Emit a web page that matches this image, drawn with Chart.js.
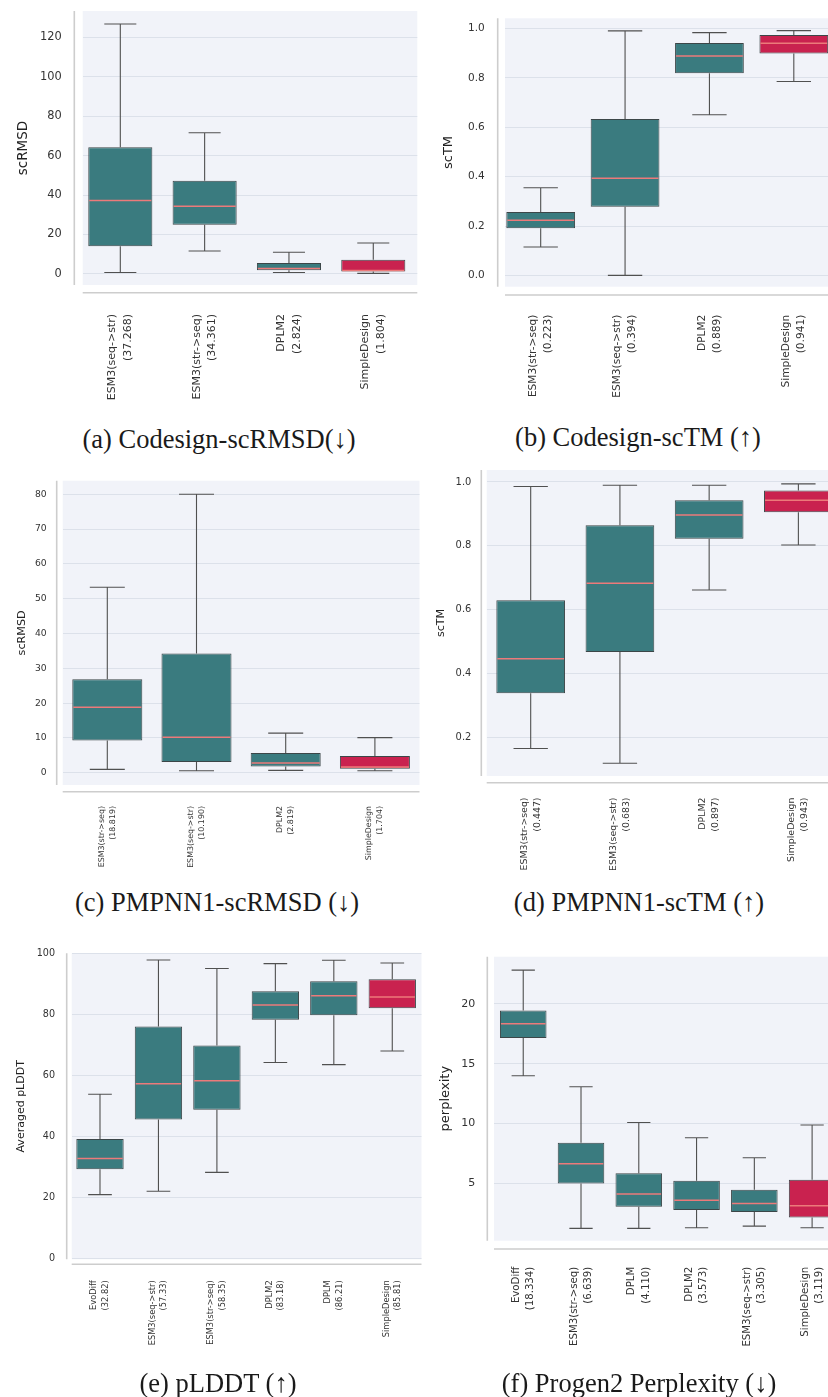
<!DOCTYPE html>
<html>
<head>
<meta charset="utf-8">
<script src="https://cdn.jsdelivr.net/npm/chart.js@4/dist/chart.umd.min.js"></script>
<style>
  html, body { margin: 0; padding: 0; background: #fff; }
  body { width: 828px; height: 1397px; position: relative; overflow: hidden; }
  canvas { position: absolute; }
  .caption {
    position: absolute;
    transform: translate(-50%, -50%);
    font-family: "Liberation Serif", "DejaVu Serif", serif;
    font-size: 26.5px;
    color: #1a1a1a;
    white-space: nowrap;
  }
</style>
</head>
<body>
<canvas id="chartA"></canvas>
<canvas id="chartB"></canvas>
<canvas id="chartC"></canvas>
<canvas id="chartD"></canvas>
<canvas id="chartE"></canvas>
<canvas id="chartF"></canvas>
<div class="caption" style="left:219px;top:439px">(a) Codesign-scRMSD(↓)</div>
<div class="caption" style="left:638px;top:437px">(b) Codesign-scTM (↑)</div>
<div class="caption" style="left:217px;top:902px">(c) PMPNN1-scRMSD (↓)</div>
<div class="caption" style="left:639px;top:902px">(d) PMPNN1-scTM (↑)</div>
<div class="caption" style="left:218px;top:1383px">(e) pLDDT (↑)</div>
<div class="caption" style="left:639px;top:1383px">(f) Progen2 Perplexity (↓)</div>
<script>
// box stats are [lower whisker, q1, median, q3, upper whisker]

// (a) Codesign scRMSD
const codesignRmsdLabels = [
  ["ESM3(seq->str)", "(37.268)"],
  ["ESM3(str->seq)", "(34.361)"],
  ["DPLM2", "(2.824)"],
  ["SimpleDesign", "(1.804)"],
];
const codesignRmsdBoxes = [
  [0.7, 14.0, 37.268, 64.2, 126.7],
  [11.6, 24.9, 34.361, 47.2, 71.6],
  [0.7, 1.9, 2.824, 5.6, 11.0],
  [0.3, 1.2, 1.804, 7.2, 15.7],
];
const codesignRmsdTicks = [0, 20, 40, 60, 80, 100, 120];

// (b) Codesign scTM
const codesignTmLabels = [
  ["ESM3(str->seq)", "(0.223)"],
  ["ESM3(seq->str)", "(0.394)"],
  ["DPLM2", "(0.889)"],
  ["SimpleDesign", "(0.941)"],
];
const codesignTmBoxes = [
  [0.115, 0.191, 0.223, 0.257, 0.355],
  [0.0, 0.278, 0.394, 0.634, 0.991],
  [0.651, 0.819, 0.889, 0.942, 0.984],
  [0.786, 0.899, 0.941, 0.974, 0.992],
];
const codesignTmTicks = [0, 0.2, 0.4, 0.6, 0.8, 1.0];

// (c) PMPNN1 scRMSD
const pmpnnRmsdLabels = [
  ["ESM3(str->seq)", "(18.819)"],
  ["ESM3(seq->str)", "(10.190)"],
  ["DPLM2", "(2.819)"],
  ["SimpleDesign", "(1.704)"],
];
const pmpnnRmsdBoxes = [
  [1.0, 9.3, 18.819, 26.9, 53.3],
  [0.6, 3.1, 10.19, 34.3, 80.0],
  [0.7, 1.8, 2.819, 5.7, 11.4],
  [0.6, 1.2, 1.704, 4.8, 10.1],
];
const pmpnnRmsdTicks = [0, 10, 20, 30, 40, 50, 60, 70, 80];

// (d) PMPNN1 scTM
const pmpnnTmLabels = [
  ["ESM3(str->seq)", "(0.447)"],
  ["ESM3(seq->str)", "(0.683)"],
  ["DPLM2", "(0.897)"],
  ["SimpleDesign", "(0.943)"],
];
const pmpnnTmBoxes = [
  [0.166, 0.339, 0.447, 0.630, 0.986],
  [0.120, 0.468, 0.683, 0.865, 0.990],
  [0.662, 0.822, 0.897, 0.943, 0.990],
  [0.803, 0.905, 0.943, 0.973, 0.994],
];
const pmpnnTmTicks = [0.2, 0.4, 0.6, 0.8, 1.0];

// (e) pLDDT
const plddtLabels = [
  ["EvoDiff", "(32.82)"],
  ["ESM3(seq->str)", "(57.33)"],
  ["ESM3(str->seq)", "(58.35)"],
  ["DPLM2", "(83.18)"],
  ["DPLM", "(86.21)"],
  ["SimpleDesign", "(85.81)"],
];
const plddtBoxes = [
  [21.0, 29.3, 32.82, 39.2, 53.9],
  [22.1, 45.6, 57.33, 76.1, 97.9],
  [28.3, 48.8, 58.35, 69.9, 95.1],
  [64.3, 78.3, 83.18, 87.7, 96.7],
  [63.6, 79.8, 86.21, 90.9, 97.8],
  [68.1, 82.1, 85.81, 91.6, 96.9],
];
const plddtTicks = [0, 20, 40, 60, 80, 100];

// (f) Progen2 perplexity
const perplexityLabels = [
  ["EvoDiff", "(18.334)"],
  ["ESM3(str->seq)", "(6.639)"],
  ["DPLM", "(4.110)"],
  ["DPLM2", "(3.573)"],
  ["ESM3(seq->str)", "(3.305)"],
  ["SimpleDesign", "(3.119)"],
];
const perplexityBoxes = [
  [14.0, 17.15, 18.334, 19.46, 22.83],
  [1.23, 4.99, 6.639, 8.39, 13.07],
  [1.23, 3.04, 4.110, 5.85, 10.09],
  [1.28, 2.76, 3.573, 5.21, 8.81],
  [1.42, 2.59, 3.305, 4.46, 7.14],
  [1.28, 2.15, 3.119, 5.30, 9.87],
];
const perplexityTicks = [5, 10, 15, 20];

const TEAL = "#3a7b7f";
const RED = "#c9224f";
const BOX_EDGE = "#3c4648";
const MEDIAN = "#ec7a7a";
const WHISKER = "#505050";
const PLOT_BG = "#f1f3f9";
const GRID = "#dce1ea";
const SPINE = "#cdcdcd";
const TEXT = "#333333";
const CLEAR = "rgba(0,0,0,0)";
const FONT = "'DejaVu Sans', sans-serif";
const LABEL_LINE = 1.4;

const panels = [
  {
    id: "chartA", labels: codesignRmsdLabels, boxes: codesignRmsdBoxes, yTicks: codesignRmsdTicks,
    yTitle: "scRMSD", decimals: 0,
    canvas: { x: 0, y: 0, w: 418, h: 420 },
    area: { l: 82.7, t: 11, r: 417.3, b: 285 },
    xRange: [-0.446, 3.522], yRange: [-5.6, 133.3], boxWidth: 0.76,
    font: { tick: 11.4, label: 11, title: 13.5 },
    titlePad: 15.2, yGap: 21, xGap: 29, spine: { left: 8.4, bottom: 7.7 },
  },
  {
    id: "chartB", labels: codesignTmLabels, boxes: codesignTmBoxes, yTicks: codesignTmTicks,
    yTitle: "scTM", decimals: 1,
    canvas: { x: 418, y: 0, w: 422, h: 420 },
    area: { l: 505, t: 18.3, r: 836, b: 286.7 },
    xRange: [-0.423, 3.5], yRange: [-0.046, 1.042], boxWidth: 0.815,
    font: { tick: 10.5, label: 10.6, title: 13 },
    titlePad: 22.9, yGap: 20.3, xGap: 28, spine: { left: 7.3, bottom: 8.3 },
  },
  {
    id: "chartC", labels: pmpnnRmsdLabels, boxes: pmpnnRmsdBoxes, yTicks: pmpnnRmsdTicks,
    yTitle: "scRMSD", decimals: 0,
    canvas: { x: 0, y: 460, w: 420, h: 420 },
    area: { l: 62.7, t: 480.7, r: 419.5, b: 785 },
    xRange: [-0.5, 3.5], yRange: [-3.5, 83.9], boxWidth: 0.785,
    font: { tick: 9.2, label: 7.9, title: 11.2 },
    titlePad: 15, yGap: 16, xGap: 21, spine: { left: 6, bottom: 6.7 },
  },
  {
    id: "chartD", labels: pmpnnTmLabels, boxes: pmpnnTmBoxes, yTicks: pmpnnTmTicks,
    yTitle: "scTM", decimals: 1,
    canvas: { x: 420, y: 460, w: 424, h: 420 },
    area: { l: 486.7, t: 470, r: 843, b: 776 },
    xRange: [-0.493, 3.5], yRange: [0.08, 1.0375], boxWidth: 0.77,
    font: { tick: 9.9, label: 9.4, title: 11.1 },
    titlePad: 14.8, yGap: 15.4, xGap: 21.5, spine: { left: 5.4, bottom: 6.7 },
  },
  {
    id: "chartE", labels: plddtLabels, boxes: plddtBoxes, yTicks: plddtTicks,
    yTitle: "Averaged pLDDT", decimals: 0,
    canvas: { x: 0, y: 930, w: 430, h: 467 },
    area: { l: 71.7, t: 953.3, r: 421.5, b: 1259.3 },
    xRange: [-0.484, 5.5], yRange: [-0.2, 100.1], boxWidth: 0.81,
    font: { tick: 9.6, label: 8.3, title: 11 },
    titlePad: 14.7, yGap: 16.7, xGap: 21, spine: { left: 5, bottom: 5 },
  },
  {
    id: "chartF", labels: perplexityLabels, boxes: perplexityBoxes, yTicks: perplexityTicks,
    yTitle: "perplexity", decimals: 0,
    canvas: { x: 430, y: 930, w: 412, h: 467 },
    area: { l: 494, t: 956.7, r: 841, b: 1240.7 },
    xRange: [-0.506, 5.5], yRange: [0.2, 23.95], boxWidth: 0.806,
    font: { tick: 11, label: 10.2, title: 13.1 },
    titlePad: 7.8, yGap: 18.7, xGap: 26, spine: { left: 6.7, bottom: 8.3 },
  },
];

const plotBackground = {
  id: "plotBackground",
  beforeDraw(chart) {
    const { ctx, chartArea: a } = chart;
    ctx.save();
    ctx.fillStyle = PLOT_BG;
    ctx.fillRect(a.left, a.top, a.right - a.left, a.bottom - a.top);
    ctx.restore();
  },
};

// offset spines, seaborn style
const offsetSpines = {
  id: "offsetSpines",
  afterDraw(chart, _args, opts) {
    const { ctx, chartArea: a } = chart;
    ctx.save();
    ctx.strokeStyle = SPINE;
    ctx.lineWidth = 1.6;
    ctx.beginPath();
    ctx.moveTo(a.left - opts.left, a.top);
    ctx.lineTo(a.left - opts.left, a.bottom);
    ctx.moveTo(a.left, a.bottom + opts.bottom);
    ctx.lineTo(a.right, a.bottom + opts.bottom);
    ctx.stroke();
    ctx.restore();
  },
};

// whiskers under the boxes, medians on top
const boxWhiskers = {
  id: "boxWhiskers",
  beforeDatasetsDraw(chart) {
    const { ctx } = chart;
    const yScale = chart.scales.y;
    const stats = chart.data.datasets[0].boxStats;
    const meta = chart.getDatasetMeta(0);
    ctx.save();
    ctx.strokeStyle = WHISKER;
    ctx.lineWidth = 1.1;
    meta.data.forEach((bar, i) => {
      const [lo, q1, , q3, hi] = stats[i];
      const capHalf = bar.width / 4;
      const yLo = yScale.getPixelForValue(lo);
      const yHi = yScale.getPixelForValue(hi);
      ctx.beginPath();
      ctx.moveTo(bar.x, yScale.getPixelForValue(q1));
      ctx.lineTo(bar.x, yLo);
      ctx.moveTo(bar.x, yScale.getPixelForValue(q3));
      ctx.lineTo(bar.x, yHi);
      ctx.moveTo(bar.x - capHalf, yLo);
      ctx.lineTo(bar.x + capHalf, yLo);
      ctx.moveTo(bar.x - capHalf, yHi);
      ctx.lineTo(bar.x + capHalf, yHi);
      ctx.stroke();
    });
    ctx.restore();
  },
  afterDatasetsDraw(chart) {
    const { ctx } = chart;
    const yScale = chart.scales.y;
    const stats = chart.data.datasets[0].boxStats;
    const meta = chart.getDatasetMeta(0);
    ctx.save();
    ctx.strokeStyle = MEDIAN;
    ctx.lineWidth = 1.5;
    meta.data.forEach((bar, i) => {
      const y = yScale.getPixelForValue(stats[i][2]);
      ctx.beginPath();
      ctx.moveTo(bar.x - bar.width / 2 + 1, y);
      ctx.lineTo(bar.x + bar.width / 2 - 1, y);
      ctx.stroke();
    });
    ctx.restore();
  },
};

function buildBoxChart(panel) {
  const canvas = document.getElementById(panel.id);
  const { canvas: box, area } = panel;
  canvas.width = box.w;
  canvas.height = box.h;
  canvas.style.left = box.x + "px";
  canvas.style.top = box.y + "px";

  // Chart.js stacks rotated label lines to the right of the tick;
  // move the tick half a line to the left so the two-line block is centred
  const unitPx = (area.r - area.l) / (panel.xRange[1] - panel.xRange[0]);
  const labelShift = (panel.font.label * LABEL_LINE) / 2 / unitPx;

  return new Chart(canvas, {
    type: "bar",
    data: {
      datasets: [
        {
          data: panel.boxes.map((b, i) => ({ x: i, y: [b[1], b[3]] })),
          boxStats: panel.boxes,
          backgroundColor: panel.labels.map((l) => (l[0] === "SimpleDesign" ? RED : TEAL)),
          borderColor: BOX_EDGE,
          borderWidth: 1,
          borderSkipped: false,
          barPercentage: panel.boxWidth,
          categoryPercentage: 1,
        },
      ],
    },
    options: {
      responsive: false,
      animation: false,
      devicePixelRatio: 1,
      layout: {
        padding: {
          left: 0,
          top: area.t - box.y,
          right: box.x + box.w - area.r,
          bottom: 0,
        },
      },
      plugins: {
        legend: { display: false },
        tooltip: { enabled: false },
        offsetSpines: panel.spine,
      },
      scales: {
        x: {
          type: "linear",
          offset: false,
          min: panel.xRange[0],
          max: panel.xRange[1],
          afterBuildTicks: (scale) => {
            scale.ticks = panel.labels.map((_, i) => ({ value: i - labelShift }));
          },
          afterFit: (scale) => {
            scale.height = box.y + box.h - area.b;
          },
          // tick marks are invisible; their length makes the gap to the labels
          grid: {
            display: true,
            offset: false,
            color: CLEAR,
            drawTicks: true,
            tickLength: panel.xGap,
            tickColor: CLEAR,
          },
          border: { display: false },
          ticks: {
            autoSkip: false,
            minRotation: 90,
            maxRotation: 90,
            padding: 0,
            color: TEXT,
            font: { family: FONT, size: panel.font.label, lineHeight: LABEL_LINE },
            callback: (value) => panel.labels[Math.round(value)],
          },
        },
        y: {
          min: panel.yRange[0],
          max: panel.yRange[1],
          afterBuildTicks: (scale) => {
            scale.ticks = panel.yTicks.map((v) => ({ value: v }));
          },
          afterFit: (scale) => {
            scale.width = area.l - box.x;
          },
          grid: {
            color: GRID,
            lineWidth: 1,
            drawTicks: true,
            tickLength: panel.yGap,
            tickColor: CLEAR,
          },
          border: { display: false },
          ticks: {
            padding: 0,
            color: TEXT,
            font: { family: FONT, size: panel.font.tick },
            callback: (value) => Number(value).toFixed(panel.decimals),
          },
          title: {
            display: true,
            text: panel.yTitle,
            color: "#222222",
            font: { family: FONT, size: panel.font.title },
            padding: { top: panel.titlePad, bottom: 0 },
          },
        },
      },
    },
    plugins: [plotBackground, offsetSpines, boxWhiskers],
  });
}

panels.forEach(buildBoxChart);
</script>
</body>
</html>
